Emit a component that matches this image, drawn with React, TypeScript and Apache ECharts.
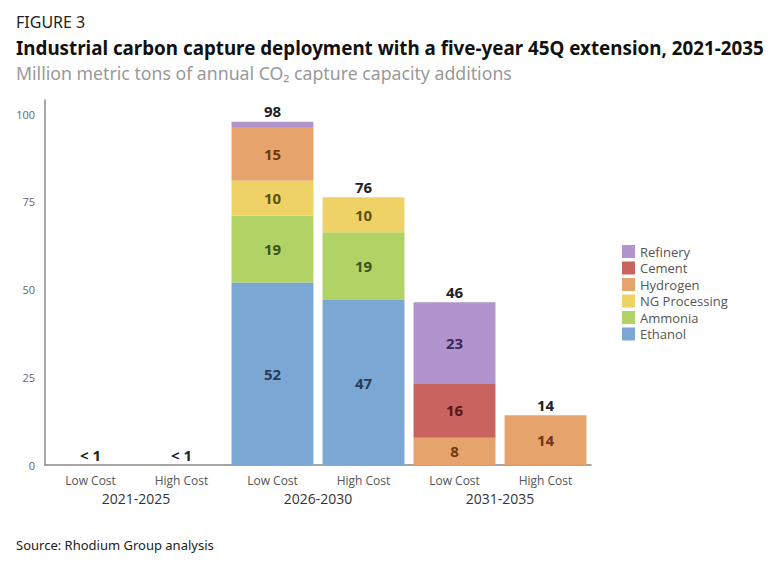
import React, { useEffect, useRef } from "react";
import * as echarts from "echarts";

const categories = ["Low Cost", "High Cost", "Low Cost", "High Cost", "Low Cost", "High Cost"];
const groups = ["2021-2025", "2026-2030", "2031-2035"];
const ethanol = [0, 0, 52, 47, 0, 0];
const ammonia = [0, 0, 19, 19.3, 0, 0];
const ngProcessing = [0, 0, 10, 10, 0, 0];
const hydrogen = [0, 0, 15.3, 0, 7.8, 14.2];
const cement = [0, 0, 0, 0, 15.5, 0];
const refinery = [0, 0, 1.5, 0, 23.1, 0];
const totalLabels = ["< 1", "< 1", "98", "76", "46", "14"];
const yTicks = [0, 25, 50, 75, 100];

const seriesDefs = [
  { name: "Ethanol", data: ethanol, color: "#7ba7d4", text: "#2a3b55" },
  { name: "Ammonia", data: ammonia, color: "#b1d365", text: "#3b5220" },
  { name: "NG Processing", data: ngProcessing, color: "#efd266", text: "#5e5012" },
  { name: "Hydrogen", data: hydrogen, color: "#e6a46c", text: "#6e3812" },
  { name: "Cement", data: cement, color: "#c9635f", text: "#5a1414" },
  { name: "Refinery", data: refinery, color: "#b193cd", text: "#3a2657" },
];

export default function App() {
  const ref = useRef<HTMLDivElement>(null);
  useEffect(() => {
    if (!ref.current) return;
    document.body.style.margin = "0";
    const chart = echarts.init(ref.current, null, { renderer: "svg" });
    const font = "'Open Sans', 'Noto Sans', sans-serif";
    const titleFont = "'Noto Sans', 'Roboto', sans-serif";
    const series: any[] = seriesDefs.map((s) => ({
      name: s.name,
      type: "bar",
      stack: "total",
      data: s.data,
      barCategoryGap: "10%",
      itemStyle: { color: s.color },
      label: {
        show: true,
        position: "inside",
        color: s.text,
        fontFamily: titleFont,
        fontWeight: "bold",
        fontSize: 15,
        formatter: (p: any) => (p.value >= 5 ? String(Math.round(p.value)) : ""),
      },
    }));
    series.push({
      name: "Total",
      type: "bar",
      stack: "total",
      data: categories.map(() => 0),
      itemStyle: { color: "transparent" },
      label: {
        show: true,
        position: "top",
        distance: 3,
        color: "#222",
        fontFamily: titleFont,
        fontWeight: "bold",
        fontSize: 15,
        formatter: (p: any) => totalLabels[p.dataIndex],
      },
    });
    chart.setOption({
      animation: false,
      title: [
        { text: "FIGURE 3", left: 11, top: 9, textStyle: { fontFamily: titleFont, fontSize: 16, fontWeight: "normal", color: "#222" } },
        { text: "Industrial carbon capture deployment with a five-year 45Q extension, 2021-2035", left: 11, top: 33, textStyle: { fontFamily: titleFont, fontSize: 18.8, fontWeight: "bold", color: "#111" } },
        { text: "Million metric tons of annual CO₂ capture capacity additions", left: 11, top: 59, textStyle: { fontFamily: titleFont, fontSize: 17.7, fontWeight: "normal", color: "#999" } },
        { text: "Source: Rhodium Group analysis", left: 11, top: 533, textStyle: { fontFamily: titleFont, fontSize: 13, fontWeight: "normal", color: "#222" } },
      ],
      legend: {
        orient: "vertical",
        left: 617,
        top: 240,
        itemWidth: 13,
        itemHeight: 13,
        itemGap: 3.5,
        icon: "rect",
        data: ["Refinery", "Cement", "Hydrogen", "NG Processing", "Ammonia", "Ethanol"],
        textStyle: { fontFamily: font, fontSize: 13, color: "#555" },
      },
      grid: { left: 45, right: 191, top: 100, bottom: 97 },
      xAxis: [
        {
          type: "category",
          data: categories,
          axisLine: { lineStyle: { color: "#888", width: 1.5 } },
          axisTick: { show: false },
          axisLabel: { fontFamily: font, fontSize: 12, color: "#555", margin: 9 },
        },
        {
          type: "category",
          data: groups,
          position: "bottom",
          offset: 17,
          axisLine: { show: false },
          axisTick: { show: false },
          axisLabel: { fontFamily: font, fontSize: 14, color: "#333", margin: 9 },
        },
      ],
      yAxis: {
        type: "value",
        min: 0,
        max: 104,
        interval: 25,
        splitLine: { show: false },
        axisLine: { show: true, lineStyle: { color: "#888", width: 1.5 } },
        axisTick: { show: false },
        axisLabel: {
          showMaxLabel: false,
          fontFamily: font,
          fontSize: 11,
          color: "#666",
          margin: 10,
          formatter: (v: number) => (yTicks.includes(v) ? String(v) : ""),
        },
      },
      series,
    });
    return () => chart.dispose();
  }, []);
  return <div ref={ref} style={{ width: 782, height: 562 }} />;
}
